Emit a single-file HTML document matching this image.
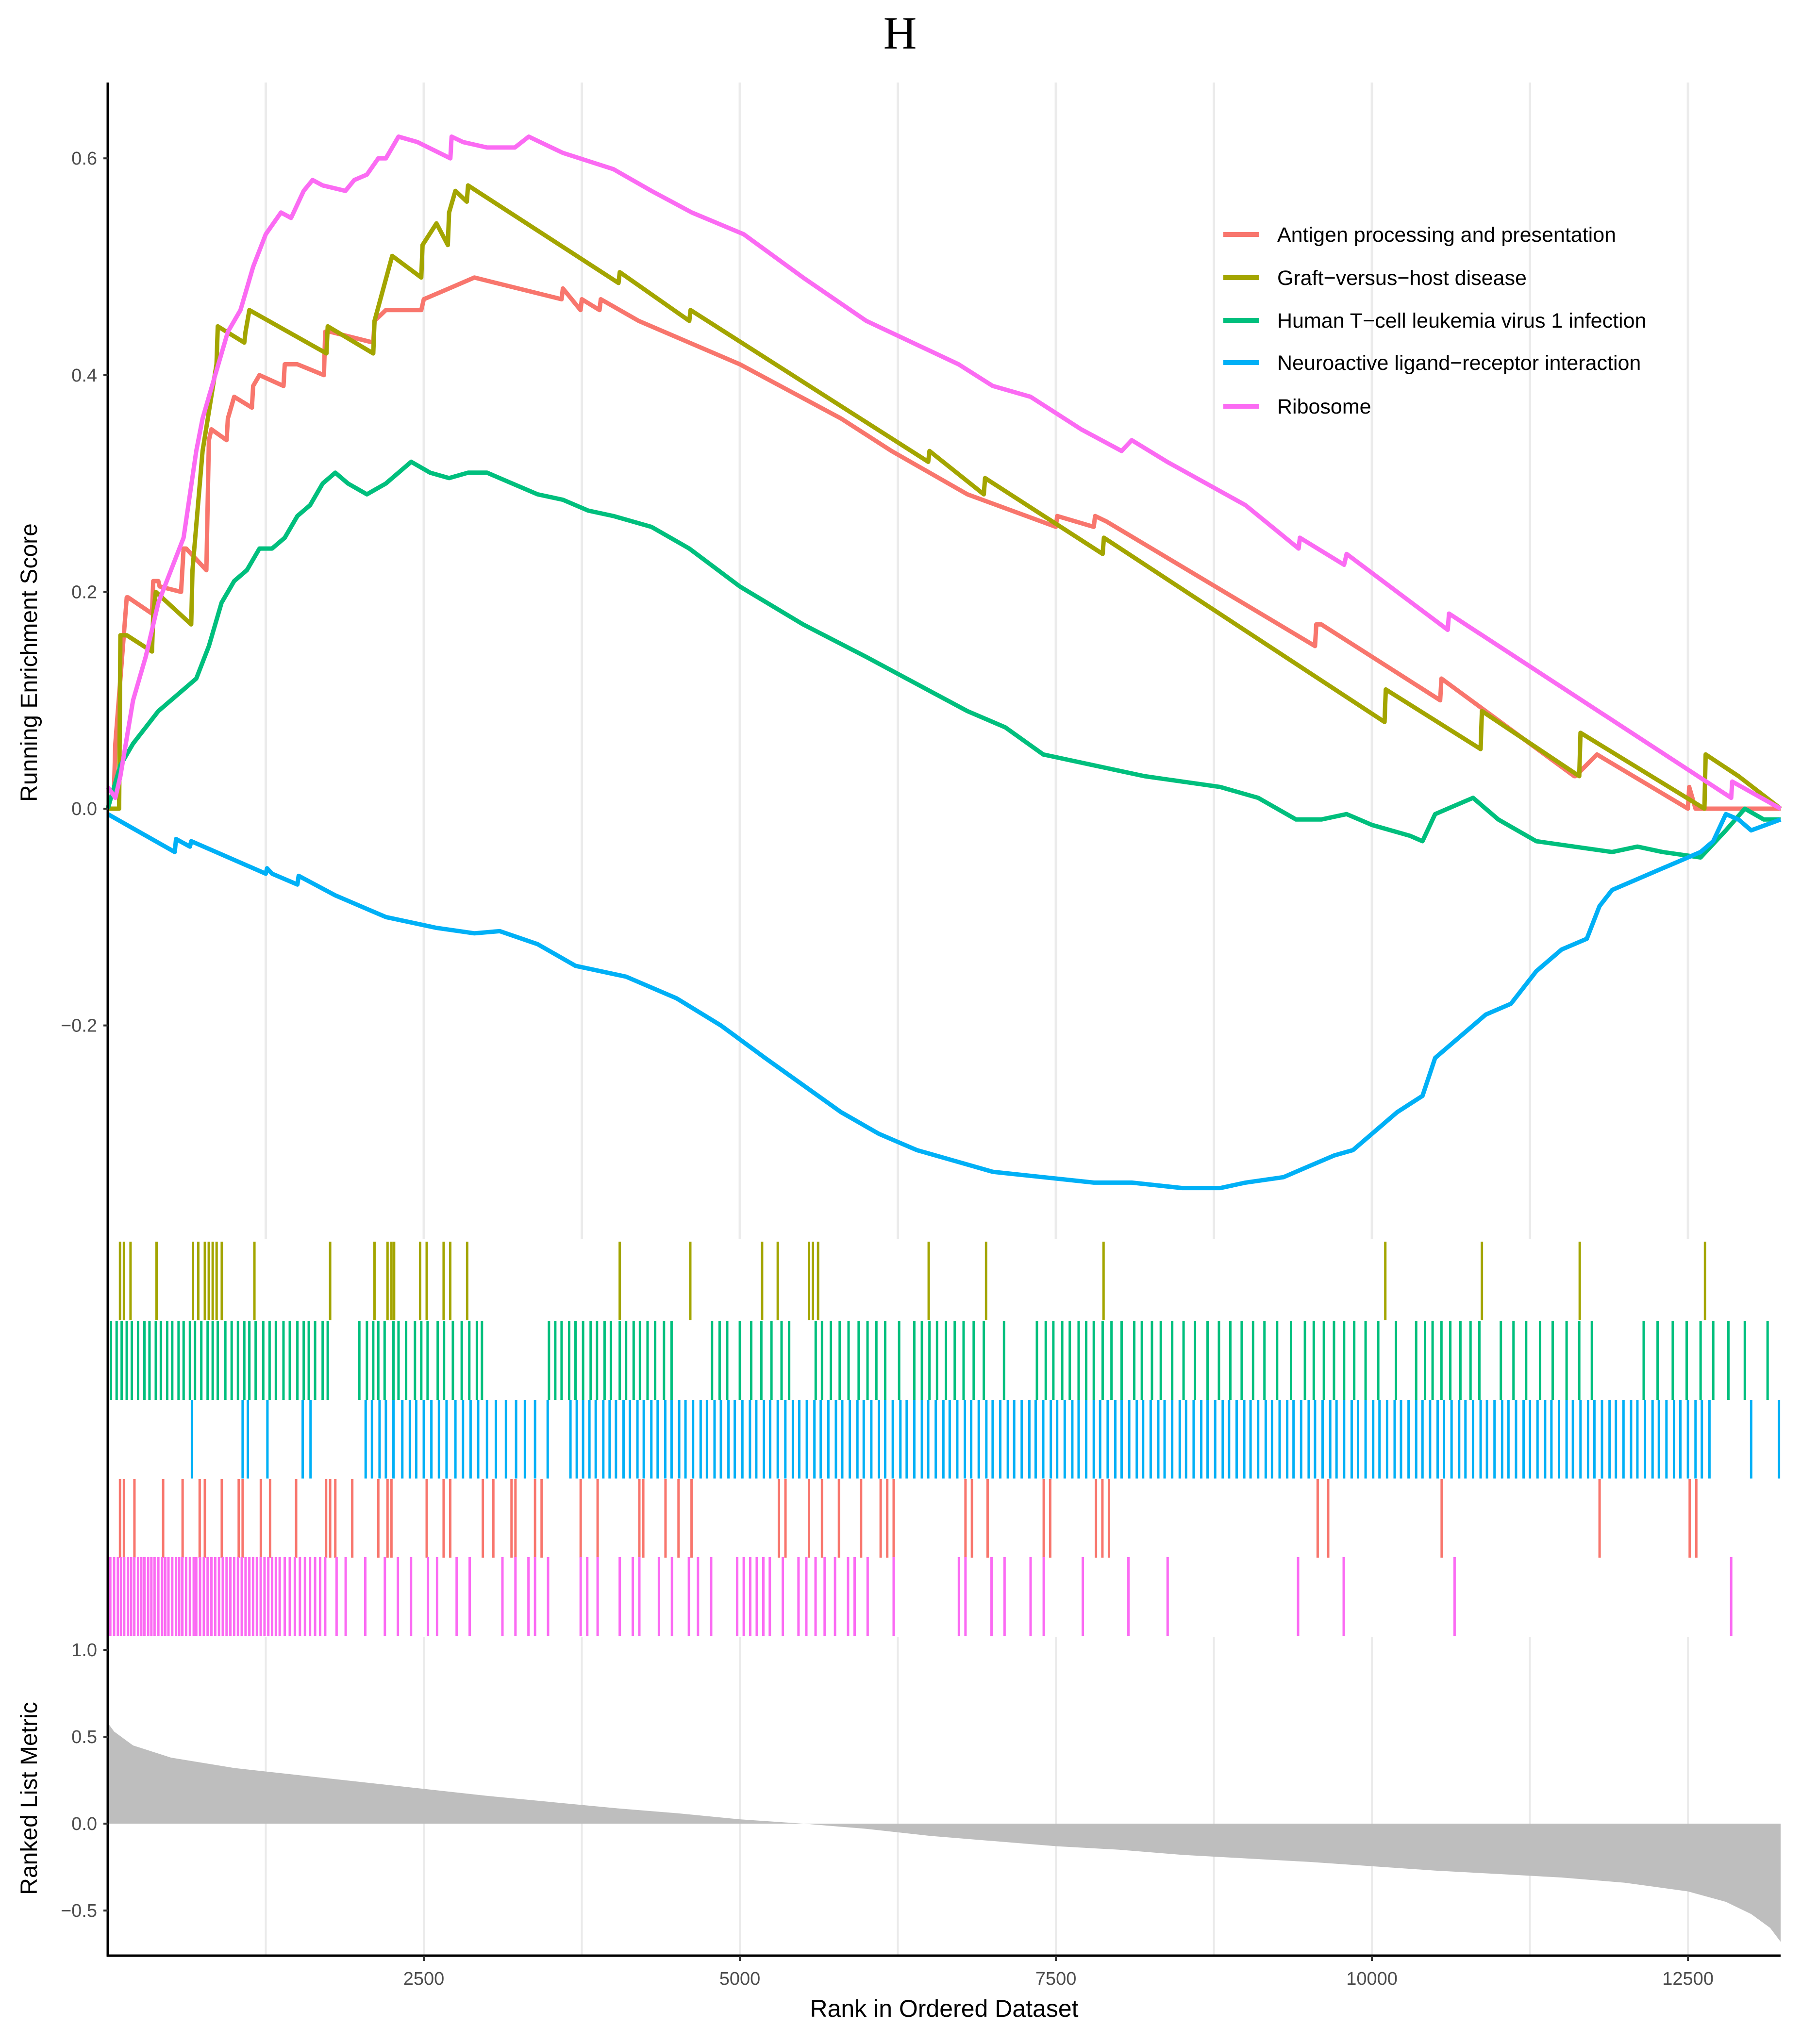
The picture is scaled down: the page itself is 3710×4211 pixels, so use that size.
<!DOCTYPE html>
<html><head><meta charset="utf-8">
<style>
html,body{margin:0;padding:0;background:#fff;}
svg{display:block;}
text{font-family:"Liberation Sans",sans-serif;}
</style></head>
<body>
<svg id="chart" width="3710" height="4211" viewBox="0 0 3710 4211" xmlns="http://www.w3.org/2000/svg">
<rect width="3710" height="4211" fill="#fff"/>
<text x="1854" y="100" text-anchor="middle" font-size="95" style="font-family:'Liberation Serif',serif">H</text>
<g id="grid"></g><g id="curves"></g><g id="rugs"></g><g id="metric"></g><g id="axes"></g><g id="legend"></g>
</svg>
<script>
// ---- data ----
const xTicks = [2500, 5000, 7500, 10000, 12500];
const xTickLabels = ["2500", "5000", "7500", "10000", "12500"];
const esTicks = [-0.2, 0.0, 0.2, 0.4, 0.6];
const esTickLabels = ["\u22120.2", "0.0", "0.2", "0.4", "0.6"];
const metricTicks = [-0.5, 0.0, 0.5, 1.0];
const metricTickLabels = ["\u22120.5", "0.0", "0.5", "1.0"];
const seriesNames = ["Antigen processing and presentation","Graft\u2212versus\u2212host disease","Human T\u2212cell leukemia virus 1 infection","Neuroactive ligand\u2212receptor interaction","Ribosome"];
const seriesColors = ["#F8766D","#A3A500","#00BF7D","#00B0F6","#FB6BF3"];

const antigenRank = [0,50,60,150,160,350,360,400,410,580,600,620,780,790,800,820,940,950,1000,1140,1150,1200,1390,1400,1500,1710,1720,1760,2100,2110,2200,2480,2500,2700,2900,3590,3600,3740,3750,3890,3900,4200,5000,5800,6200,6800,7500,7510,7800,7810,7900,9550,9560,9600,10540,10550,11600,11610,11780,12500,12510,12560,13233];
const antigenES = [0,0.02,0.06,0.195,0.195,0.18,0.21,0.21,0.205,0.2,0.24,0.24,0.22,0.28,0.34,0.35,0.34,0.36,0.38,0.37,0.39,0.40,0.39,0.41,0.41,0.40,0.44,0.44,0.43,0.45,0.46,0.46,0.47,0.48,0.49,0.47,0.48,0.46,0.47,0.46,0.47,0.45,0.41,0.36,0.33,0.29,0.26,0.27,0.26,0.27,0.265,0.15,0.17,0.17,0.10,0.12,0.03,0.03,0.05,0.0,0.02,0.0,0.0];

const gvhdRank = [0,90,100,150,350,360,380,660,670,750,860,870,1080,1090,1120,1730,1740,2100,2110,2250,2480,2490,2600,2690,2700,2750,2840,2850,4040,4050,4600,4610,6490,6500,6930,6940,7870,7880,10100,10110,10860,10870,11640,11650,12630,12640,12900,13233];
const gvhdES = [0,0,0.16,0.16,0.145,0.18,0.20,0.17,0.22,0.33,0.41,0.445,0.43,0.44,0.46,0.42,0.445,0.42,0.45,0.51,0.49,0.52,0.54,0.52,0.55,0.57,0.56,0.575,0.485,0.495,0.45,0.46,0.32,0.33,0.29,0.305,0.235,0.25,0.08,0.11,0.055,0.09,0.03,0.07,0.0,0.05,0.03,0.0];

const htlvRank = [0,100,200,400,600,700,800,900,1000,1100,1200,1300,1400,1500,1600,1700,1800,1900,2050,2200,2400,2550,2700,2850,3000,3200,3400,3600,3800,4000,4300,4600,5000,5500,6000,6400,6800,7100,7400,7800,8200,8500,8800,9100,9400,9600,9800,10000,10300,10400,10500,10600,10800,11000,11300,11600,11900,12100,12300,12600,12800,12950,13100,13233];
const htlvES = [0,0.04,0.06,0.09,0.11,0.12,0.15,0.19,0.21,0.22,0.24,0.24,0.25,0.27,0.28,0.30,0.31,0.30,0.29,0.30,0.32,0.31,0.305,0.31,0.31,0.30,0.29,0.285,0.275,0.27,0.26,0.24,0.205,0.17,0.14,0.115,0.09,0.075,0.05,0.04,0.03,0.025,0.02,0.01,-0.01,-0.01,-0.005,-0.015,-0.025,-0.03,-0.005,0.0,0.01,-0.01,-0.03,-0.035,-0.04,-0.035,-0.04,-0.045,-0.02,0.0,-0.01,-0.01];

const neuroRank = [0,530,540,650,660,1250,1260,1300,1500,1510,1800,2200,2600,2900,3100,3400,3700,4100,4500,4850,5200,5500,5800,6100,6400,6700,7000,7400,7800,8100,8500,8800,9000,9300,9500,9700,9850,10000,10200,10400,10500,10700,10900,11100,11300,11500,11700,11800,11900,12100,12300,12400,12600,12700,12800,12900,13000,13233];
const neuroES = [-0.005,-0.04,-0.028,-0.035,-0.03,-0.06,-0.055,-0.06,-0.07,-0.062,-0.08,-0.10,-0.11,-0.115,-0.113,-0.125,-0.145,-0.155,-0.175,-0.2,-0.23,-0.255,-0.28,-0.3,-0.315,-0.325,-0.335,-0.34,-0.345,-0.345,-0.35,-0.35,-0.345,-0.34,-0.33,-0.32,-0.315,-0.3,-0.28,-0.265,-0.23,-0.21,-0.19,-0.18,-0.15,-0.13,-0.12,-0.09,-0.075,-0.065,-0.055,-0.05,-0.04,-0.03,-0.005,-0.01,-0.02,-0.01];

const riboRank = [0,60,100,200,300,400,500,600,700,750,850,950,1050,1150,1250,1370,1450,1550,1620,1700,1880,1950,2050,2140,2200,2300,2450,2710,2720,2810,3000,3220,3330,3600,4000,4300,4620,5030,5500,6000,6730,7000,7300,7700,8020,8100,8380,9000,9420,9430,9780,9800,10600,10610,12842,12850,13233];
const riboES = [0.02,0.01,0.03,0.1,0.14,0.19,0.22,0.25,0.33,0.36,0.40,0.44,0.46,0.50,0.53,0.55,0.545,0.57,0.58,0.575,0.57,0.58,0.585,0.60,0.60,0.62,0.615,0.60,0.62,0.615,0.61,0.61,0.62,0.605,0.59,0.57,0.55,0.53,0.49,0.45,0.41,0.39,0.38,0.35,0.33,0.34,0.32,0.28,0.24,0.25,0.225,0.235,0.165,0.18,0.01,0.025,0.0];

const rugGvhd = [97,128,180,386,674,716,768,799,830,861,902,1160,1759,2110,2213,2244,2265,2471,2523,2657,2709,2843,4050,4608,5176,5300,5547,5578,5619,6494,6948,7877,10106,10870,11644,12635];
const rugHtlv = [25,70,110,150,190,240,290,330,380,420,470,510,560,600,650,690,740,790,830,870,930,980,1030,1080,1120,1170,1230,1280,1330,1390,1440,1500,1550,1590,1640,1700,1740,1990,2050,2100,2140,2190,2260,2300,2360,2430,2480,2530,2610,2660,2730,2800,2860,2920,2960,3490,3540,3590,3650,3700,3760,3820,3870,3930,3980,4050,4100,4160,4210,4270,4330,4400,4460,4780,4840,4900,5000,5090,5170,5250,5330,5390,5600,5650,5720,5790,5860,5940,6010,6080,6150,6260,6380,6440,6500,6560,6630,6700,6770,6850,6930,7090,7350,7420,7480,7550,7610,7680,7740,7800,7870,7940,8020,8120,8180,8260,8330,8420,8510,8600,8700,8790,8880,8970,9060,9150,9250,9360,9470,9540,9620,9700,9780,9860,9950,10050,10190,10350,10420,10480,10550,10620,10700,10780,10850,11020,11120,11220,11330,11430,11540,11640,11740,12150,12260,12380,12490,12600,12700,12820,12950,13130];
const rugNeuro = [666,1067,1108,1263,1542,1604,2040,2090,2150,2200,2260,2330,2390,2440,2500,2560,2620,2680,2750,2810,2870,2930,3000,3070,3150,3230,3300,3380,3480,3660,3710,3760,3810,3860,3920,3970,4020,4080,4130,4190,4240,4300,4350,4410,4460,4520,4570,4630,4690,4740,4800,4850,4910,4960,5020,5080,5130,5190,5240,5300,5360,5420,5470,5530,5590,5640,5700,5760,5810,5870,5930,5980,6040,6100,6150,6210,6270,6320,6380,6440,6490,6550,6610,6660,6720,6780,6830,6890,6950,7000,7060,7120,7170,7230,7290,7340,7400,7460,7510,7570,7630,7680,7740,7800,7850,7910,7970,8020,8080,8140,8190,8250,8310,8360,8420,8480,8530,8590,8650,8700,8760,8820,8870,8930,8990,9040,9100,9160,9210,9270,9330,9380,9440,9500,9550,9610,9670,9720,9780,9840,9890,9950,10010,10060,10120,10180,10230,10290,10350,10400,10460,10520,10570,10630,10690,10740,10800,10860,10910,10970,11030,11080,11140,11200,11250,11310,11370,11420,11480,11540,11590,11650,11710,11760,11820,11880,11930,11990,12050,12100,12160,12220,12270,12330,12390,12440,12500,12560,12610,12670,13000,13220];
const rugAntigen = [97,128,211,438,592,727,768,902,1036,1067,1211,1284,1490,1727,1759,1800,1934,2140,2213,2244,2523,2657,2709,2967,3050,3194,3225,3380,3432,3741,3875,4205,4236,4412,4515,4618,5309,5361,5547,5650,5784,5959,6114,6166,6217,6785,6836,6960,7404,7455,7817,7868,7920,9571,9654,10552,11801,12514,12566];
const rugRibo = [20,50,80,105,130,160,185,210,240,265,290,320,345,370,400,430,455,480,510,540,565,590,620,650,680,700,730,760,790,820,850,880,910,940,970,1000,1030,1060,1090,1120,1150,1180,1210,1240,1270,1300,1330,1360,1400,1440,1480,1520,1560,1600,1640,1680,1720,1810,1882,2037,2192,2295,2399,2533,2605,2760,2863,3122,3225,3328,3380,3483,3741,3793,3875,4050,4153,4205,4360,4463,4597,4669,4773,4979,5031,5082,5134,5186,5237,5340,5464,5526,5599,5671,5753,5856,5908,6011,6217,6733,6785,6991,7094,7300,7404,7713,8074,8384,9416,9777,10654,12842];

const metricRank = [0,50,200,500,1000,1500,2000,2500,3000,3500,4000,4500,5000,5500,6000,6500,7000,7500,8000,8500,9000,9500,10000,10500,11000,11500,12000,12500,12800,13000,13150,13233];
const metricVal = [0.58,0.53,0.45,0.38,0.32,0.28,0.24,0.2,0.16,0.125,0.09,0.06,0.025,0.0,-0.03,-0.07,-0.1,-0.13,-0.15,-0.18,-0.2,-0.22,-0.245,-0.27,-0.29,-0.31,-0.34,-0.39,-0.45,-0.52,-0.6,-0.68];

// ---- scales ----
const X0 = 222, X1 = 3668, RMAX = 13233;
const xs = r => X0 + (r / RMAX) * (X1 - X0);
const yES = v => 1666 - v * 2233;
const yM = v => 3757 - v * 358;
const NS = "http://www.w3.org/2000/svg";
function mk(tag, parent, attrs){ const e = document.createElementNS(NS, tag); for (const k in attrs) e.setAttribute(k, attrs[k]); parent.appendChild(e); return e; }

// grid
const grid = document.getElementById('grid');
[1250,2500,3750,5000,6250,7500,8750,10000,11250,12500].forEach(r => {
  const g1 = mk('line', grid, {x1: xs(r), x2: xs(r), y1: 170, y2: 2553, stroke: '#ebebeb', 'stroke-width': 5});
  
  
  const g2 = mk('line', grid, {x1: xs(r), x2: xs(r), y1: 3372, y2: 4029, stroke: '#ebebeb', 'stroke-width': 4});
  
  
});

// curves
const curves = document.getElementById('curves');
const curveData = [[antigenRank, antigenES],[gvhdRank, gvhdES],[htlvRank, htlvES],[neuroRank, neuroES],[riboRank, riboES]];
const curveNames = ['antigen-curve','gvhd-curve','htlv-curve','neuroactive-curve','ribosome-curve'];
curveData.forEach((d, i) => {
  const pts = d[0].map((r, j) => xs(r).toFixed(1) + ',' + yES(d[1][j]).toFixed(1)).join(' ');
  const pl = mk('polyline', curves, {points: pts, fill: 'none', stroke: seriesColors[i], 'stroke-width': 9, 'stroke-linejoin': 'round'});
  
  
});

// rugs
const rugs = document.getElementById('rugs');
const rugData = [[rugGvhd, 1, 2558],[rugHtlv, 2, 2722],[rugNeuro, 3, 2884],[rugAntigen, 0, 3047],[rugRibo, 4, 3208]];
const rugNames = ['gvhd-hit','htlv-hit','neuroactive-hit','antigen-hit','ribosome-hit'];
rugData.forEach((d, k) => {
  d[0].forEach(r => {
    const t = mk('line', rugs, {x1: xs(r), x2: xs(r), y1: d[2], y2: d[2] + 162, stroke: seriesColors[d[1]], 'stroke-width': 5});
    
    
  });
});

// metric area
const met = document.getElementById('metric');
let dpath = 'M' + xs(0) + ',' + yM(0);
metricRank.forEach((r, j) => { dpath += ' L' + xs(r).toFixed(1) + ',' + yM(metricVal[j]).toFixed(1); });
dpath += ' L' + xs(RMAX) + ',' + yM(0) + ' Z';
const area = mk('path', met, {d: dpath, fill: '#bebebe'});



// axes
const ax = document.getElementById('axes');
const yl = mk('line', ax, {x1: 222, x2: 222, y1: 170, y2: 4031, stroke: '#000', 'stroke-width': 5});


const xl = mk('line', ax, {x1: 220, x2: 3668, y1: 4029, y2: 4029, stroke: '#000', 'stroke-width': 5});


esTicks.forEach((v, i) => {
  const tk = mk('line', ax, {x1: 213, x2: 222, y1: yES(v), y2: yES(v), stroke: '#333', 'stroke-width': 4});
  
  
  const tx = mk('text', ax, {x: 200, y: yES(v) + 13, 'text-anchor': 'end', 'font-size': 38, fill: '#4d4d4d'});
  tx.textContent = esTickLabels[i];
  
  
});
metricTicks.forEach((v, i) => {
  const tk = mk('line', ax, {x1: 213, x2: 222, y1: yM(v), y2: yM(v), stroke: '#333', 'stroke-width': 4});
  
  
  const tx = mk('text', ax, {x: 200, y: yM(v) + 13, 'text-anchor': 'end', 'font-size': 38, fill: '#4d4d4d'});
  tx.textContent = metricTickLabels[i];
  
  
});
xTicks.forEach((r, i) => {
  const tk = mk('line', ax, {x1: xs(r), x2: xs(r), y1: 4029, y2: 4040, stroke: '#333', 'stroke-width': 4});
  
  
  const tx = mk('text', ax, {x: xs(r), y: 4089, 'text-anchor': 'middle', 'font-size': 38, fill: '#4d4d4d'});
  tx.textContent = xTickLabels[i];
  
  
});
const xt = mk('text', ax, {x: 1945, y: 4155, 'text-anchor': 'middle', 'font-size': 50, fill: '#000'});
xt.textContent = 'Rank in Ordered Dataset';


const yt = mk('text', ax, {x: 0, y: 0, 'text-anchor': 'middle', 'font-size': 48, fill: '#000', transform: 'translate(76,1365) rotate(-90)'});
yt.textContent = 'Running Enrichment Score';


const yt2 = mk('text', ax, {x: 0, y: 0, 'text-anchor': 'middle', 'font-size': 48, fill: '#000', transform: 'translate(76,3705) rotate(-90)'});
yt2.textContent = 'Ranked List Metric';



// legend
const lg = document.getElementById('legend');
const legendY = [483, 572, 660, 747, 837];
seriesNames.forEach((n, i) => {
  const ln = mk('line', lg, {x1: 2520, x2: 2594, y1: legendY[i], y2: legendY[i], stroke: seriesColors[i], 'stroke-width': 10});
  
  
  const tx = mk('text', lg, {x: 2631, y: legendY[i] + 15, 'font-size': 43, fill: '#000'});
  tx.textContent = n;
  
  
});
</script>
</body></html>
